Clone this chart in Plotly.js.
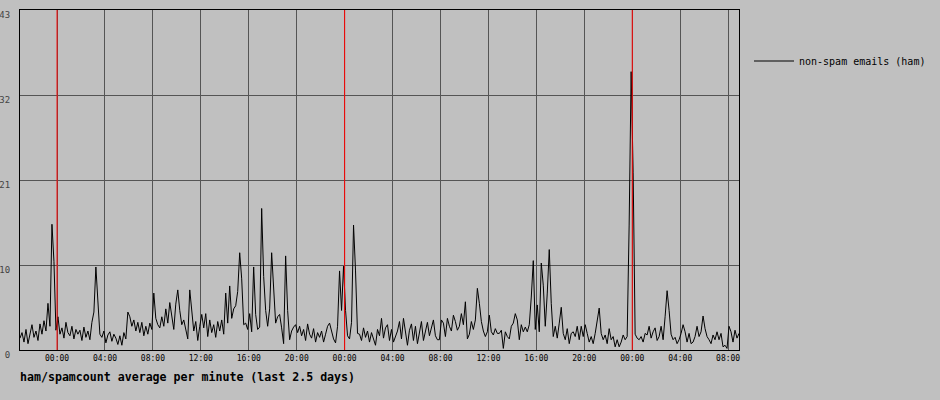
<!DOCTYPE html>
<html>
<head>
<meta charset="utf-8">
<script src="https://cdn.plot.ly/plotly-3.0.1.min.js"></script>
<style>
html,body{margin:0;padding:0;background:#c0c0c0;}
#chart{width:940px;height:400px;}
</style>
</head>
<body>
<div id="chart"></div>
<script>
// ---- data ----
var seriesName = "non-spam emails (ham)";
var chartTitle = "ham/spamcount average per minute (last 2.5 days)";
var startTime = "2024-03-01T20:54:30Z";   // first sample
var stepMinutes = 10;                      // sampling interval
var hamValues = [
  1.5,2.2,1.0,2.6,0.8,2.0,3.2,1.6,2.4,1.2,
  3.3,2.0,3.7,2.4,5.9,3.0,15.9,11.2,2.5,4.2,
  2.0,2.8,1.5,3.5,2.2,1.8,3.0,1.4,2.6,2.0,
  2.5,1.2,2.9,1.6,2.4,1.3,3.5,4.8,10.5,6.2,
  2.0,1.6,2.4,0.9,1.9,2.3,1.1,2.0,1.5,0.7,
  1.8,0.6,2.2,1.4,4.8,4.2,3.0,3.8,2.4,3.5,
  2.2,3.5,1.8,3.0,2.0,3.4,2.6,7.2,4.0,3.2,
  2.8,4.2,3.0,5.2,3.4,6.0,4.5,2.6,5.8,7.6,
  5.0,3.2,3.8,2.6,1.4,7.6,4.8,2.4,3.6,1.2,
  3.0,4.5,2.8,4.6,1.7,3.8,2.2,3.2,1.6,3.6,
  2.4,3.8,2.0,7.2,3.4,8.1,4.0,5.2,5.6,7.4,
  12.3,9.0,3.2,3.4,2.6,4.6,2.3,10.5,4.5,2.6,
  2.9,17.9,9.3,5.0,3.0,5.2,12.3,7.0,3.4,4.2,
  4.5,2.8,0.8,11.9,5.0,1.3,2.4,2.9,3.2,2.2,
  3.0,1.8,2.6,1.2,3.3,2.0,1.5,2.7,1.0,2.2,
  1.6,2.4,1.0,2.0,3.0,3.4,2.5,1.4,0.9,3.0,
  10.0,5.0,10.6,5.0,1.8,1.4,3.5,15.8,10.0,2.1,
  2.0,1.2,2.8,1.6,2.4,1.0,2.2,1.4,0.6,2.6,
  1.8,4.0,1.5,2.8,3.2,1.2,2.6,1.0,1.6,2.4,
  3.6,1.4,4.0,2.0,0.6,2.5,3.3,1.2,3.0,0.8,
  2.5,3.6,1.2,2.6,3.5,1.8,2.8,3.8,1.8,1.3,
  1.3,3.8,3.4,1.7,4.0,3.0,2.4,4.4,3.6,2.5,
  3.0,4.6,3.2,6.1,1.4,2.0,3.6,2.6,3.8,7.8,
  5.9,3.6,2.4,1.7,2.3,4.4,2.3,1.9,2.7,2.1,
  2.1,2.5,0.2,2.3,1.7,1.4,3.0,3.4,4.6,3.8,
  1.3,3.2,2.3,2.9,2.3,3.2,6.7,11.3,2.6,5.7,
  2.3,11.0,8.2,3.0,7.2,12.7,5.9,1.7,3.0,1.5,
  3.4,5.4,2.1,1.3,2.7,0.8,2.1,2.3,1.7,3.0,
  1.3,3.0,1.7,3.2,2.1,1.0,1.7,0.8,2.1,3.8,
  5.3,2.1,1.3,1.9,0.8,2.7,1.3,1.7,0.4,1.3,
  0.4,1.0,1.9,1.3,1.7,15.8,35.2,22.4,2.0,1.5,
  1.3,1.7,1.0,2.1,1.9,3.0,1.5,2.3,2.8,1.2,
  1.7,3.0,1.3,4.2,7.5,5.0,2.0,1.3,1.6,0.8,
  1.3,2.1,3.2,2.3,1.0,2.1,0.8,1.0,1.7,3.0,
  1.7,2.3,4.3,2.7,1.7,1.3,0.8,1.9,1.3,2.3,
  1.3,2.1,0.4,0.6,0.2,3.0,2.3,1.0,2.5,1.5,2.1
];
var yMax = 43;
var yTickVals = [0, 10.75, 21.5, 32.25, 43];
var yTickText = ["0", "10", "21", "32", "43"];
var midnights = ["2024-03-02 00:00:00", "2024-03-03 00:00:00", "2024-03-04 00:00:00"];
var spanHours = 60;

// ---- build ----
var t0 = Date.parse(startTime);
var xs = hamValues.map(function(v, i){ return t0 + i * stepMinutes * 60000; });
var t1 = t0 + spanHours * 3600000;

var traces = [{
  x: xs, y: hamValues, type: "scatter", mode: "lines", name: seriesName,
  line: {color: "#000000", width: 1}, hoverinfo: "skip"
}];

// red day-boundary markers, on top of grid and data
midnights.forEach(function(m){
  traces.push({x:[m, m], y:[0, yMax], type:"scatter", mode:"lines", showlegend:false,
               hoverinfo:"skip", line:{color:"#ff0000", width:1}});
});

var mono = "DejaVu Sans Mono, Liberation Mono, monospace";
var layout = {
  width: 940, height: 400,
  paper_bgcolor: "#c0c0c0", plot_bgcolor: "#c0c0c0",
  margin: {l:20, r:200, t:10, b:50, pad:0},
  showlegend: true,
  legend: {x: 1 + 9/720, xanchor:"left", xref:"paper", y: (350-61)/340, yanchor:"middle",
           bgcolor:"rgba(0,0,0,0)", borderwidth:0, font:{family:mono, size:10, color:"#000"},
           itemwidth:40},
  xaxis: {
    type:"date", range:[t0, t1], tickmode:"linear", tick0: "2024-03-02 00:00:00", dtick: 4*3600000,
    tickformat:"%H:%M", showgrid:true, gridcolor:"#555555", gridwidth:1,
    showline:true, mirror:true, linecolor:"#000000", linewidth:1, ticks:"", zeroline:false,
    tickfont:{family:mono, size:8, color:"#000"}, ticklabelstandoff:0, fixedrange:true
  },
  yaxis: {
    range:[0, yMax], tickmode:"array", tickvals:yTickVals, ticktext:yTickText,
    showgrid:true, gridcolor:"#555555", gridwidth:1, zeroline:false,
    showline:true, mirror:true, linecolor:"#000000", linewidth:1, ticks:"",
    tickfont:{family:mono, size:9, color:"#444444"}, ticklabelstandoff:7, ticklabelshift:5, fixedrange:true
  },
  annotations: [{
    text: "<b>" + chartTitle + "</b>", xref:"paper", yref:"paper", x:0, y:(350-377)/340,
    xanchor:"left", yanchor:"middle", showarrow:false, xshift:-2,
    font:{family:mono, size:11.6, color:"#000"}
  }]
};

Plotly.newPlot("chart", traces, layout, {displayModeBar:false, staticPlot:true});
</script>
</body>
</html>
